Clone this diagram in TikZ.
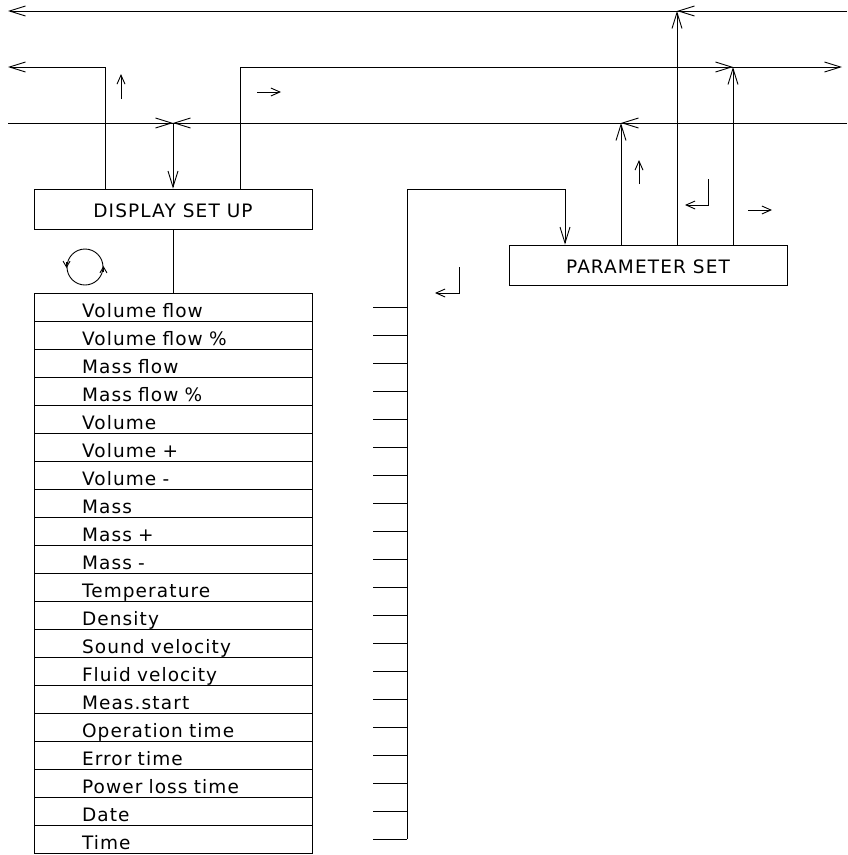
\documentclass[tikz,border=0pt]{standalone}
\usepackage{fontspec}
\setmainfont{DejaVu Sans}[LetterSpace=6]
\usetikzlibrary{arrows.meta, positioning, calc}

\begin{document}
\begin{tikzpicture}[
    x=1pt, y=-1pt, line width=0.9pt,
    font=\fontsize{18.5}{20}\selectfont,
    box/.style={rectangle, draw, minimum width=278pt, minimum height=40pt,
                inner sep=0pt, text height=17pt, text depth=0pt},
    row/.style={rectangle, draw, minimum width=278pt, minimum height=28pt,
                text width=182pt, align=left, inner sep=0pt,
                text height=20pt, text depth=0pt},
    flow/.style={-{Straight Barb[length=16pt, width=10pt]}},
    hint/.style={-{Straight Barb[length=9pt, width=8pt]}},
  ]
  \useasboundingbox (0,0) rectangle (847,855);

  % boxes
  \node[box] (disp) at (173,209) {DISPLAY SET UP};
  \node[box] (param) at (648,265) {PARAMETER SET};
  \foreach \txt [count=\i] in {Volume flow, Volume flow \%, Mass flow, Mass flow \%,
      Volume, Volume +, Volume -, Mass, Mass +, Mass -, Temperature, Density,
      Sound velocity, Fluid velocity, Meas.start, Operation time, Error time,
      Power loss time, Date, Time}
    \node[row] (r\i) at (173,279+28*\i) {\txt};
  \draw (disp.south) -- (r1.north);

  % cycle symbol
  \node[circle, draw, minimum size=36pt, inner sep=0pt] (cyc) at (85,267) {};
  \draw[-{Straight Barb[length=6pt, width=7pt]}] ([yshift=5pt]cyc.west) -- ([yshift=-1pt]cyc.west);
  \draw[-{Straight Barb[length=6pt, width=7pt]}] ([yshift=-5pt]cyc.east) -- ([yshift=1pt]cyc.east);

  % bus lines
  \coordinate (b1w) at (8,11);   \coordinate (b1e) at (847,11);
  \coordinate (b2w) at (8,67);   \coordinate (b2e) at (842,67);
  \coordinate (b3w) at (8,123);  \coordinate (b3e) at (847,123);
  \coordinate (dl) at (105,0);   \coordinate (dr) at (240,0);
  \draw[flow] (b1e) -- (b1w);
  \draw (b3w) -- (b3e);
  \draw[flow] (disp.north -| dl) |- (b2w);
  \draw[flow] (disp.north -| dr) |- (b2e);

  % junction above DISPLAY SET UP
  \coordinate (jd) at (disp.north |- b3w);
  \draw[flow] (jd) -- (disp.north);
  \draw[flow] ([xshift=-20pt]jd) -- (jd);
  \draw[flow] ([xshift=20pt]jd) -- (jd);

  % outputs of PARAMETER SET
  \coordinate (j1) at (677,11);
  \coordinate (j2) at (733,67);
  \coordinate (j3) at (621,123);
  \draw[flow] (param.north -| j1) -- (j1);
  \draw[flow] (param.north -| j2) -- (j2);
  \draw[flow] (param.north -| j3) -- (j3);
  \draw[flow] ([xshift=20pt]j1) -- (j1);
  \draw[flow] ([xshift=-20pt]j2) -- (j2);
  \draw[flow] ([xshift=20pt]j3) -- (j3);

  % feeder from the list
  \coordinate (ft) at (407,189);
  \coordinate (fb) at (407,839);
  \coordinate (fin) at (565,189);
  \coordinate (tk) at (373,0);
  \draw[flow] (fb) -- (ft) -- (fin) -- (param.north -| fin);
  \foreach \i in {1,...,20}
    \draw (r\i -| tk) -- (r\i -| fb);

  % direction hints
  \draw[hint] (121,99) -- (121,74);
  \draw[hint] (257,92) -- (281,92);
  \draw[hint] (639,184) -- (639,160);
  \draw[hint] (748,210) -- (772,210);
  \draw[hint] (459,267) |- (435,293);
  \draw[hint] (708,179) |- (685,205);
\end{tikzpicture}
\end{document}
